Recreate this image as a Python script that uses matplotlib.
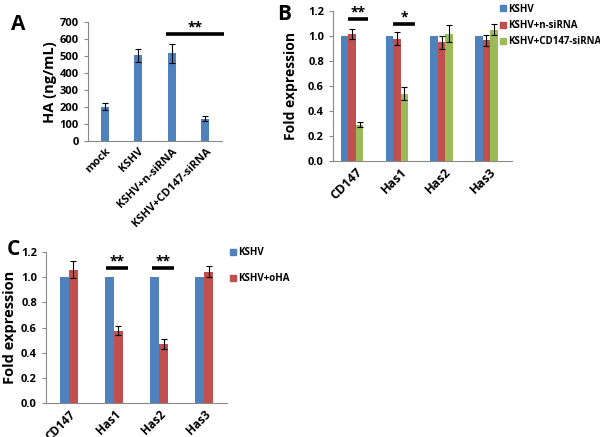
import numpy as np
import matplotlib
matplotlib.use("Agg")
import matplotlib.pyplot as plt
from matplotlib.lines import Line2D

plt.rcParams['font.family'] = ['Open Sans', 'DejaVu Sans']
plt.rcParams['font.weight'] = 'bold'

BLUE, RED, GREEN = "#4F81BD", "#C0504D", "#9BBB59"

# panel A
a_cats = ["mock", "KSHV", "KSHV+n-siRNA", "KSHV+CD147-siRNA"]
a_vals = [202, 505, 518, 133]
a_errs = [20, 40, 55, 14]

# panel B
genes = ["CD147", "Has1", "Has2", "Has3"]
b_series = ["KSHV", "KSHV+n-siRNA", "KSHV+CD147-siRNA"]
b_kshv = [1.0, 1.0, 1.0, 1.0]
b_nsi = [1.02, 0.98, 0.95, 0.965]
b_nsi_err = [0.04, 0.055, 0.05, 0.045]
b_cd = [0.29, 0.54, 1.02, 1.05]
b_cd_err = [0.02, 0.05, 0.065, 0.045]

# panel C
c_series = ["KSHV", "KSHV+oHA"]
c_kshv = [1.0, 1.0, 1.0, 1.0]
c_oha = [1.06, 0.575, 0.47, 1.045]
c_oha_err = [0.07, 0.035, 0.04, 0.045]


def style(ax):
    for s in ("top", "right"):
        ax.spines[s].set_visible(False)
    ax.spines["left"].set_color("#888888")
    ax.spines["bottom"].set_color("#888888")
    ax.tick_params(axis="y", length=3, color="#888888", labelsize=8)
    ax.tick_params(axis="x", length=0)
    for t in ax.get_yticklabels():
        t.set_fontweight("bold")


def sig(ax, x0, x1, y, txt, ty):
    ax.plot([x0, x1], [y, y], color="black", lw=2.6, clip_on=False, solid_capstyle="butt")
    ax.text((x0 + x1) / 2, ty, txt, ha="center", va="center", fontsize=10, fontweight="bold",
            clip_on=False)


def fmt1(v):
    return [f"{t:.1f}" for t in v]


fig = plt.figure(figsize=(6, 4.37), dpi=100)
ek = dict(ecolor="black", elinewidth=0.8, capsize=2.2, capthick=0.8)

# ---- A
ax = fig.add_axes([0.1467, 0.677, 0.2233, 0.272])
x = np.arange(len(a_cats))
ax.bar(x, a_vals, 0.24, yerr=a_errs, color=BLUE, error_kw=ek)
ax.set_xlim(-0.5, len(a_cats) - 0.5)
ax.set_ylim(0, 700)
ax.set_yticks(range(0, 701, 100))
ax.set_xticks(x)
ax.set_xticklabels(a_cats, rotation=45, ha="right", rotation_mode="anchor", fontsize=8,
                   fontweight="bold")
ax.set_ylabel("HA (ng/mL)", fontsize=10.5, fontweight="bold", labelpad=2)
style(ax)
sig(ax, 1.83, 3.56, 629, "**", 668)
fig.text(0.018, 0.945, "A", fontsize=15, fontweight="bold", va="center")

# ---- B
ax = fig.add_axes([0.555, 0.6316, 0.298, 0.343])
x = np.arange(len(genes))
w = 0.168
ax.bar(x - w - 0.07, b_kshv, w, color=BLUE, label=b_series[0])
ax.bar(x - 0.07, b_nsi, w, yerr=b_nsi_err, color=RED, error_kw=ek, label=b_series[1])
ax.bar(x + w - 0.07, b_cd, w, yerr=b_cd_err, color=GREEN, error_kw=ek, label=b_series[2])
ax.set_xlim(-0.5, len(genes) - 0.5)
ax.set_ylim(0, 1.2)
yt = np.arange(0, 1.21, 0.2)
ax.set_yticks(yt)
ax.set_yticklabels(fmt1(yt))
ax.set_xticks(x)
ax.set_xticklabels(genes, rotation=45, ha="right", rotation_mode="anchor", fontsize=9,
                   fontweight="bold")
ax.set_ylabel("Fold expression", fontsize=10, fontweight="bold", labelpad=7)
style(ax)
sig(ax, -0.165, 0.28, 1.136, "**", 1.185)
sig(ax, 0.84, 1.33, 1.096, "*", 1.145)
hb = [Line2D([], [], marker="s", ls="", color=c, markersize=4.5) for c in (BLUE, RED, GREEN)]
fig.legend(hb, b_series, loc="upper left", bbox_to_anchor=(0.822, 1.005), frameon=False,
           prop=dict(size=7, weight="bold"), handletextpad=0.1, labelspacing=0.55,
           handlelength=0.8, borderaxespad=0.2)
fig.text(0.462, 0.967, "B", fontsize=15, fontweight="bold", va="center")

# ---- C
ax = fig.add_axes([0.0767, 0.0778, 0.3017, 0.3455])
w = 0.2
ax.bar(x - w / 2, c_kshv, w, color=BLUE, label=c_series[0])
ax.bar(x + w / 2, c_oha, w, yerr=c_oha_err, color=RED, error_kw=ek, label=c_series[1])
ax.set_xlim(-0.5, len(genes) - 0.5)
ax.set_ylim(0, 1.2)
ax.set_yticks(yt)
ax.set_yticklabels(fmt1(yt))
ax.set_xticks(x)
ax.set_xticklabels(genes, rotation=45, ha="right", rotation_mode="anchor", fontsize=8.5,
                   fontweight="bold")
ax.set_ylabel("Fold expression", fontsize=10.5, fontweight="bold", labelpad=3)
style(ax)
sig(ax, 0.826, 1.312, 1.073, "**", 1.125)
sig(ax, 1.84, 2.33, 1.073, "**", 1.125)
hc = [Line2D([], [], marker="s", ls="", color=c, markersize=4.5) for c in (BLUE, RED)]
fig.legend(hc, c_series, loc="upper left", bbox_to_anchor=(0.372, 0.447), frameon=False,
           prop=dict(size=7, weight="bold"), handletextpad=0.1, labelspacing=1.5,
           handlelength=0.8, borderaxespad=0.2)
fig.text(0.012, 0.428, "C", fontsize=15, fontweight="bold", va="center")

fig.savefig("out.png", dpi=100)
